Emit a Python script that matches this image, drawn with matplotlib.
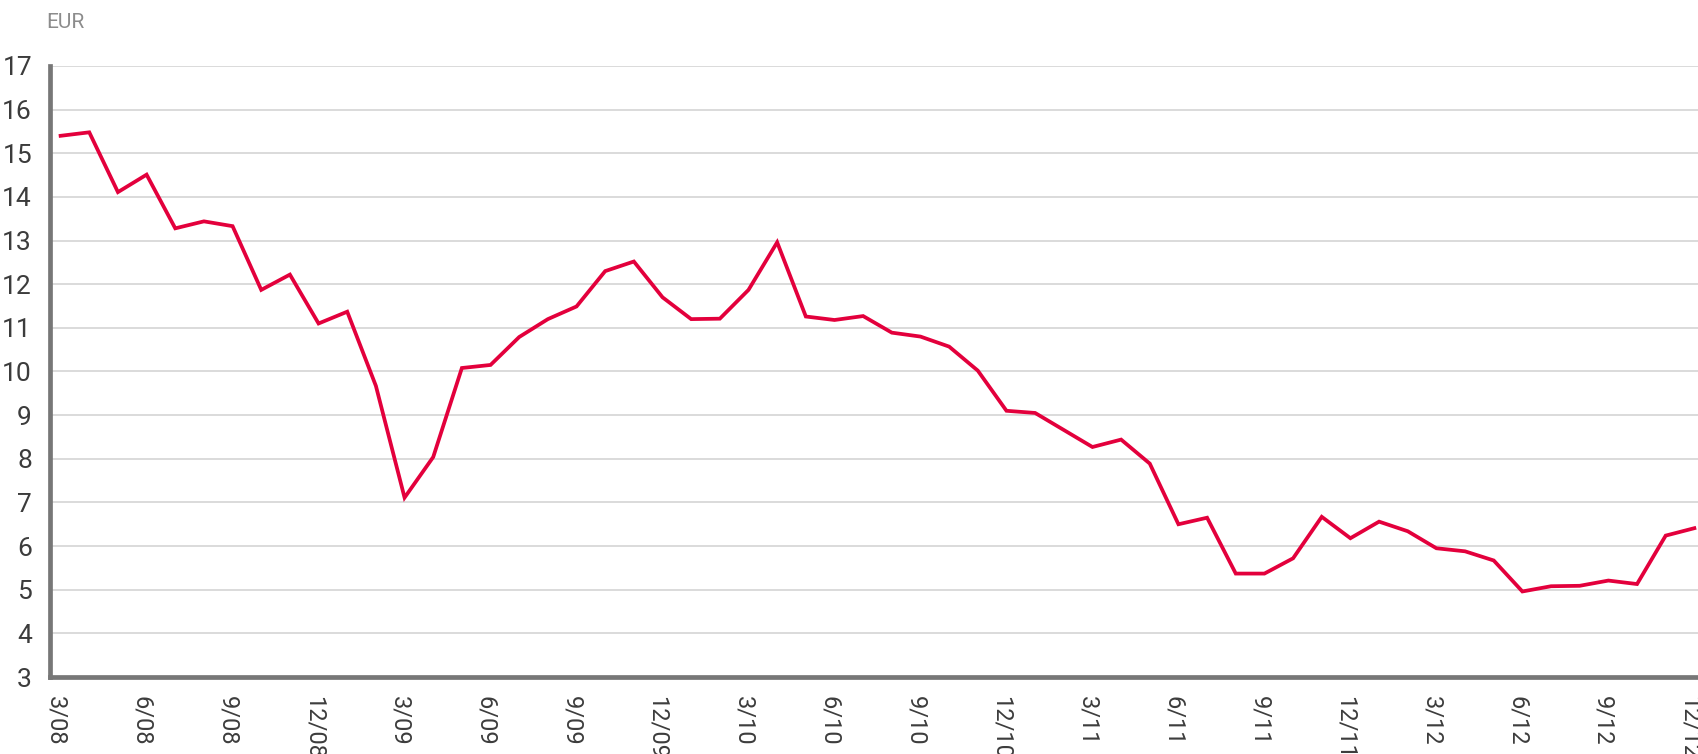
import matplotlib
matplotlib.use("Agg")
import matplotlib.pyplot as plt
import matplotlib.transforms as mtransforms
import numpy as np

# Monthly share price (EUR), 3/2008 .. 12/2012
months = ["3/08", "4/08", "5/08", "6/08", "7/08", "8/08", "9/08", "10/08", "11/08", "12/08",
          "1/09", "2/09", "3/09", "4/09", "5/09", "6/09", "7/09", "8/09", "9/09", "10/09",
          "11/09", "12/09", "1/10", "2/10", "3/10", "4/10", "5/10", "6/10", "7/10", "8/10",
          "9/10", "10/10", "11/10", "12/10", "1/11", "2/11", "3/11", "4/11", "5/11", "6/11",
          "7/11", "8/11", "9/11", "10/11", "11/11", "12/11", "1/12", "2/12", "3/12", "4/12",
          "5/12", "6/12", "7/12", "8/12", "9/12", "10/12", "11/12", "12/12"]
price = [15.40, 15.48, 14.11, 14.51, 13.28, 13.44, 13.33, 11.87, 12.22, 11.10,
         11.37, 9.67, 7.11, 8.04, 10.08, 10.15, 10.79, 11.20, 11.49, 12.30,
         12.52, 11.70, 11.20, 11.21, 11.87, 12.96, 11.26, 11.18, 11.27, 10.89,
         10.80, 10.57, 10.02, 9.10, 9.05, 8.66, 8.27, 8.44, 7.89, 6.50,
         6.65, 5.37, 5.37, 5.72, 6.67, 6.18, 6.56, 6.34, 5.95, 5.88,
         5.67, 4.96, 5.08, 5.09, 5.21, 5.13, 6.24, 6.41]
y_ticks = list(range(3, 18))
unit_label = "EUR"

fam = ["Roboto", "DejaVu Sans"]
plt.rcParams["font.family"] = fam

fig = plt.figure(figsize=(16.98, 7.54), dpi=100)
ax = fig.add_axes([0.02945, 0.1021, 0.9706, 0.8104])

x = np.arange(len(price))
ax.plot(x, price, color="#e3003c", linewidth=2.7, solid_joinstyle="miter", zorder=3)

ax.set_xlim(-0.37, len(price) - 1 + 0.13)
ax.set_ylim(3, 17)
ax.set_yticks(y_ticks)
ax.set_yticklabels([str(v) for v in y_ticks])
for v in y_ticks[1:]:
    ax.axhline(v, color="#dadada", linewidth=1.4, zorder=1)

tick_idx = list(range(0, len(months), 3))
ax.set_xticks(tick_idx)
ax.set_xticklabels([months[i] for i in tick_idx], rotation=270, ha="center", va="top")

ax.tick_params(axis="both", length=0, colors="#3c3c3c")
ax.tick_params(axis="y", pad=13, labelsize=19)
ax.tick_params(axis="x", pad=14, labelsize=17)

shift = mtransforms.ScaledTranslation(-5 / 100, 0, fig.dpi_scale_trans)
for lbl in ax.get_xticklabels():
    lbl.set_transform(lbl.get_transform() + shift)

for s in ["top", "right"]:
    ax.spines[s].set_visible(False)
for s in ["left", "bottom"]:
    ax.spines[s].set_color("#777777")
    ax.spines[s].set_linewidth(3.4)
    ax.spines[s].set_zorder(4)

fig.text(46 / 1698, 1 - 23 / 754, unit_label, fontsize=15, color="#8c8c8c",
         ha="left", va="center")

fig.savefig("out.png", dpi=100)
